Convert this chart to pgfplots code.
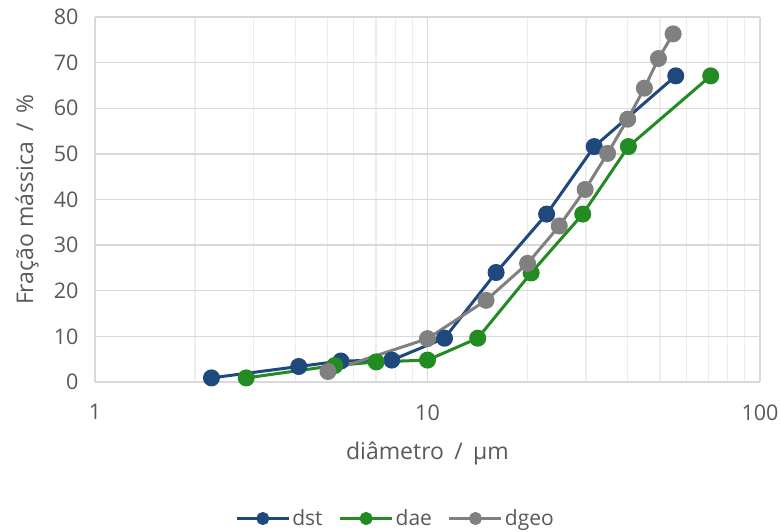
\documentclass[border=0pt]{standalone}
\usepackage{pgfplots}
\pgfplotsset{compat=1.18}
\usepackage{fontspec}
\setmainfont{Open Sans}
\definecolor{txt}{HTML}{595959}
\definecolor{gridc}{HTML}{D9D9D9}
\definecolor{minorc}{HTML}{EDEDED}
\definecolor{cdst}{HTML}{1F497D}
\definecolor{cdae}{HTML}{228B22}
\definecolor{cgeo}{HTML}{808080}
\begin{document}
\begin{tikzpicture}
\useasboundingbox (0pt,0pt) rectangle (780pt,531pt);
\begin{axis}[
  at={(95pt,149pt)}, anchor=south west,
  scale only axis, width=665pt, height=365pt,
  xmode=log, xmin=1, xmax=100, ymin=0, ymax=80,
  xtick={1,10,100}, xticklabels={1,10,100},
  ytick={0,10,...,80},
  /pgf/number format/assume math mode=true,
  tick label style={font=\fontsize{21.5}{23}\selectfont, text=txt},
  major tick length=0pt, minor tick length=0pt,
  xmajorgrids, xminorgrids, ymajorgrids,
  major grid style={gridc, line width=1.3pt},
  minor grid style={minorc, line width=1.3pt},
  axis line style={gridc, line width=1.3pt},
  axis x line*=bottom, axis y line*=left,
  x axis line style={-}, y axis line style={-},
  xticklabel style={yshift=-19pt},
  yticklabel style={xshift=-13pt},
  xlabel={diâmetro\hspace{0.45em}/\hspace{0.45em}µm},
  ylabel={Fração mássica\hspace{0.45em}/\hspace{0.45em}\%},
  label style={font=\fontsize{23}{25}\selectfont, text=txt},
  xlabel style={at={(axis description cs:0.5,0)}, anchor=center, yshift=-71pt},
  ylabel style={at={(axis description cs:0,0.5)}, anchor=center, xshift=0pt, yshift=68pt},
  legend columns=-1,
  legend style={at={(axis description cs:0.452,-0.374)}, anchor=center, draw=none,
    font=\fontsize{21}{23}\selectfont, text=txt,
    /tikz/every even column/.style={column sep=14pt},
    nodes={inner xsep=2pt}},
  legend image code/.code={\draw[mark repeat=2,mark phase=2,mark size=5pt]
    plot coordinates {(0pt,0pt)(26pt,0pt)(52pt,0pt)};},
  every axis plot/.append style={line width=3pt, mark=*, mark size=7pt},
]
\addplot[cdst, mark options={fill=cdst}] coordinates {
  (2.24,0.9) (4.10,3.4) (5.49,4.6) (7.81,4.8) (11.25,9.6)
  (16.08,24.0) (22.82,36.8) (31.73,51.6) (55.8,67.1)};
\addlegendentry{dst}
\addplot[cdae, mark options={fill=cdae}] coordinates {
  (2.85,0.9) (5.26,3.6) (7.01,4.4) (10.0,4.8) (14.16,9.6)
  (20.5,23.9) (29.3,36.8) (40.2,51.6) (71.1,67.1)};
\addlegendentry{dae}
\addplot[cgeo, mark options={fill=cgeo}] coordinates {
  (5.02,2.3) (10.0,9.5) (15.0,17.9) (20.0,26.0) (24.9,34.2)
  (29.8,42.2) (34.8,50.1) (40.0,57.6) (44.9,64.4) (49.5,70.9) (54.8,76.3)};
\addlegendentry{dgeo}
\end{axis}
\end{tikzpicture}
\end{document}
